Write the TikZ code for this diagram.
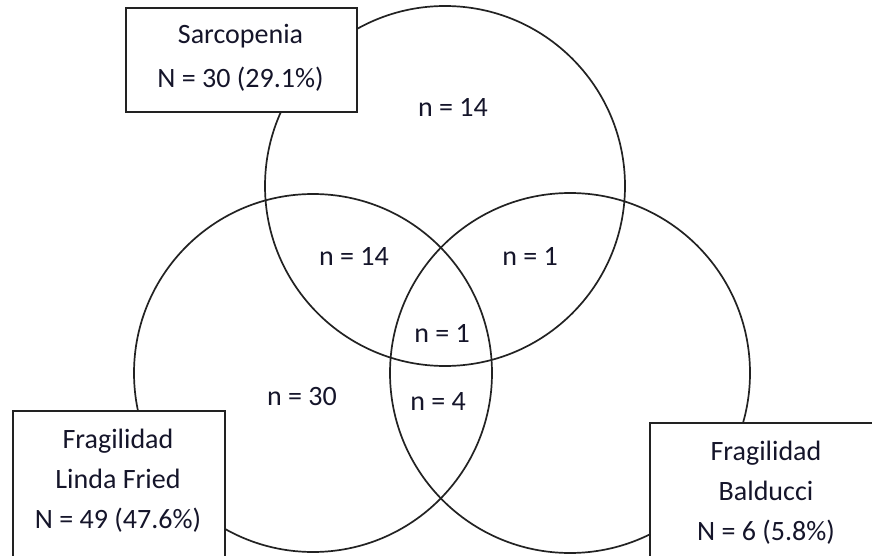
\documentclass[tikz,border=0pt]{standalone}
\usepackage{fontspec}
\setmainfont{Carlito}
\definecolor{linec}{HTML}{222222}
\definecolor{txtc}{HTML}{15152A}
\begin{document}
\begin{tikzpicture}[x=1pt,y=-1pt,
  ring/.style={draw=linec, line width=1.7pt},
  boxst/.style={draw=linec, line width=1.7pt, fill=white, rectangle, inner sep=0pt},
  lbl/.style={text=txtc, font=\fontsize{28}{34}\selectfont, inner sep=0pt},
  boxtxt/.style={text=txtc, align=center, inner sep=0pt}]
\useasboundingbox (0,0) rectangle (872,556);
\clip (0,0) rectangle (872,556);
\fill[white] (0,0) rectangle (872,556);
% circles
\coordinate (cs) at (445,186);
\coordinate (cf) at (313,373);
\coordinate (cb) at (570,373);
\draw[ring] (cs) circle[radius=180pt];
\draw[ring] (cf) circle[radius=179pt];
\draw[ring] (cb) circle[radius=180pt];
% region labels
\node[lbl] (s) at (453,107) {n = 14};
\node[lbl] (sf) at (354,256) {n = 14};
\node[lbl] (sb) at (530,256) {n = 1};
\node[lbl] (sfb) at (442,333) {n = 1};
\node[lbl] (fb) at (438,402) {n = 4};
\node[lbl] (f) at (302,397) {n = 30};
% boxes
\node[boxst, minimum width=231pt, minimum height=104pt, anchor=north west] (sbox) at (125,7) {};
\node[boxst, minimum width=212pt, minimum height=180pt, anchor=north west] (fbox) at (12,410) {};
\node[boxst, minimum width=260pt, minimum height=170pt, anchor=north west] (bbox) at (649,422) {};
\node[boxtxt, font=\fontsize{28}{44}\selectfont] (stxt) at (240.5,58) {Sarcopenia\\N = 30 (29.1\%)};
\node[boxtxt, font=\fontsize{28}{40}\selectfont] (ftxt) at (118,481) {Fragilidad\\Linda Fried\\N = 49 (47.6\%)};
\node[boxtxt, font=\fontsize{28}{40}\selectfont] (btxt) at (766,493) {Fragilidad\\Balducci\\N = 6 (5.8\%)};
\end{tikzpicture}
\end{document}
